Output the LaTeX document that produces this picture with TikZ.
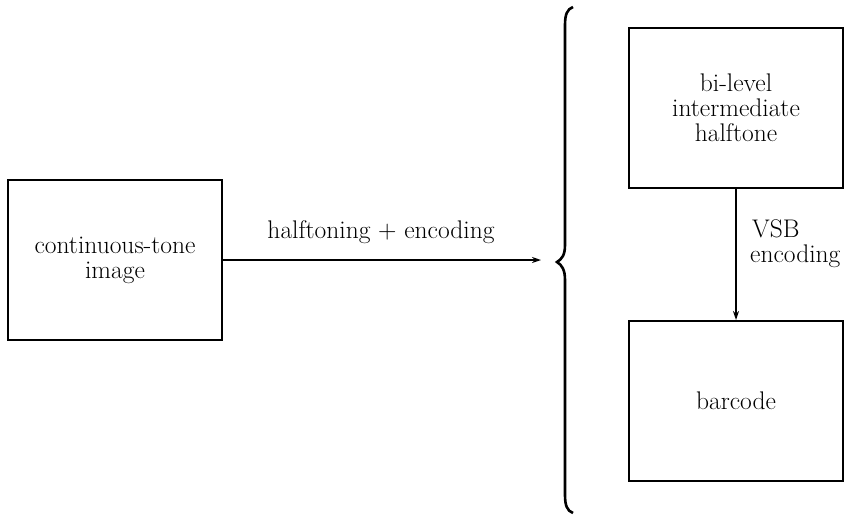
\documentclass[tikz,border=0pt]{standalone}
\usetikzlibrary{arrows.meta}
\begin{document}
\begin{tikzpicture}[x=1pt,y=-1pt,
  box/.style={draw,line width=2pt,minimum width=214pt,minimum height=160pt,inner sep=0pt,align=center,font=\fontsize{25.5}{25}\selectfont},
  lbl/.style={font=\fontsize{25.5}{25}\selectfont,inner sep=0pt},
  conn/.style={line width=1.4pt,-{Stealth[length=9pt,width=6pt]}}]
\useasboundingbox (0,0) rectangle (854,515);
\node[box] (img) at (115,260) {continuous-tone\\image};
\node[box] (bil) at (736,108) {bi-level\\intermediate\\halftone};
\node[box] (bar) at (736,401) {barcode};
\coordinate (bend) at (541,260);
\draw[conn] (img.east) -- (bend);
\node[lbl] (ht) at (381,232) {halftoning + encoding};
\draw[conn] (bil.south) -- (bar.north);
\node[lbl,align=left,anchor=west] (vsb) at (750,244) {\hspace*{2pt}VSB\\encoding};
\draw[line width=2.6pt] (573,7) .. controls (567,9) and (565,15) .. (565,25) -- (565,245) .. controls (565,255) and (562,259) .. (557,262) .. controls (562,265) and (565,270) .. (565,280) -- (565,495) .. controls (565,505) and (567,511) .. (573,513);
\end{tikzpicture}
\end{document}
